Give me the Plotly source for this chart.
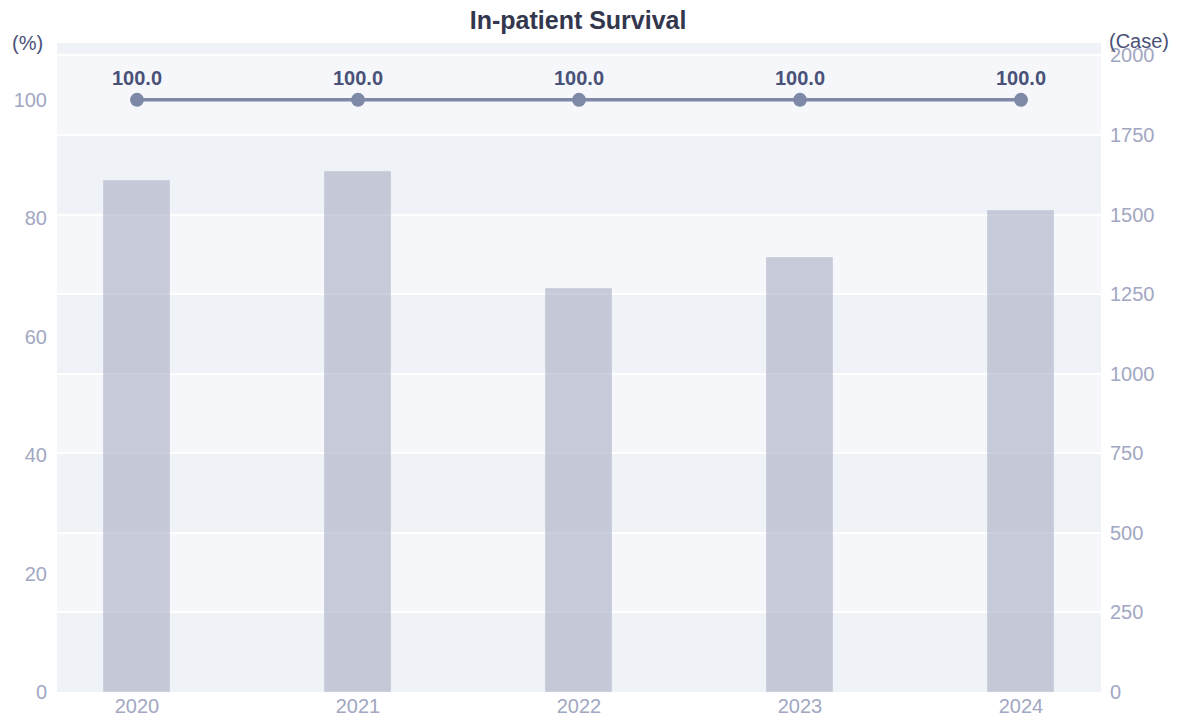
import plotly.graph_objects as go

years = ["2020", "2021", "2022", "2023", "2024"]
cases = [1606, 1633, 1266, 1362, 1512]
survival = [100.0, 100.0, 100.0, 100.0, 100.0]
case_ticks = [0, 250, 500, 750, 1000, 1250, 1500, 1750, 2000]
pct_ticks = [0, 20, 40, 60, 80, 100]
case_max = 2039
pct_max = 109.6

FONT = "Liberation Sans, Arial, sans-serif"
TICK_COLOR = "#a2a7c2"
DARK = "#4a5178"

fig = go.Figure()

fig.add_trace(go.Bar(
    x=years, y=cases, yaxis="y2", width=0.303,
    marker=dict(color="rgba(160,165,190,0.55)",
                line=dict(color="rgba(200,204,220,0.8)", width=1)),
    hoverinfo="x+y", showlegend=False,
))

fig.add_trace(go.Scatter(
    x=years, y=survival, yaxis="y", mode="lines+markers+text",
    line=dict(color="#7e88a7", width=3.5),
    marker=dict(color="#7e88a7", size=14),
    text=[f"<b>{v:.1f}</b>" for v in survival], textposition="top center",
    textfont=dict(family=FONT, size=20, color=DARK),
    showlegend=False, cliponaxis=False,
))

# alternating split-area bands between right-axis ticks
bounds = case_ticks + [case_max]
shapes = []
for i in range(len(bounds) - 1):
    shapes.append(dict(
        type="rect", xref="paper", yref="y2", x0=0, x1=1,
        y0=bounds[i], y1=bounds[i + 1],
        fillcolor="#eff2f7" if i % 2 == 0 else "#f5f7fb",
        line=dict(width=0), layer="below",
    ))

fig.update_layout(
    width=1181, height=720,
    margin=dict(l=57, r=80, t=43, b=28, autoexpand=False),
    paper_bgcolor="white", plot_bgcolor="white",
    font=dict(family=FONT, color=TICK_COLOR),
    title=dict(text="<b>In-patient Survival</b>", x=0.4895, xanchor="center",
               y=0.972, yanchor="middle", automargin=False,
               font=dict(family=FONT, size=25, color="#33374d")),
    xaxis=dict(type="category", range=[-0.362, 4.362], showgrid=False,
               zeroline=False, showline=False, ticks="", automargin=False,
               tickfont=dict(size=20, color=TICK_COLOR)),
    yaxis=dict(range=[0, pct_max], tickvals=pct_ticks, showgrid=False,
               zeroline=False, showline=False, ticks="", ticklabelstandoff=9,
               automargin=False,
               tickfont=dict(size=20, color=TICK_COLOR)),
    yaxis2=dict(range=[0, case_max], tickvals=case_ticks, overlaying="y",
                side="right", showgrid=True, gridcolor="white", gridwidth=2,
                zeroline=False, showline=False, ticks="", ticklabelstandoff=8,
                automargin=False,
                tickfont=dict(size=20, color=TICK_COLOR)),
    shapes=shapes,
    bargap=0,
    annotations=[
        dict(text="(%)", xref="paper", yref="paper", x=-0.0287, y=1.0,
             xanchor="center", yanchor="middle", showarrow=False,
             font=dict(family=FONT, size=20, color=DARK)),
        dict(text="(Case)", xref="paper", yref="paper", x=1.036, y=1.003,
             xanchor="center", yanchor="middle", showarrow=False,
             font=dict(family=FONT, size=20, color=DARK)),
    ],
)

fig.write_html("out.html", config={"displayModeBar": False},
               post_script="document.body.style.margin='0';")
